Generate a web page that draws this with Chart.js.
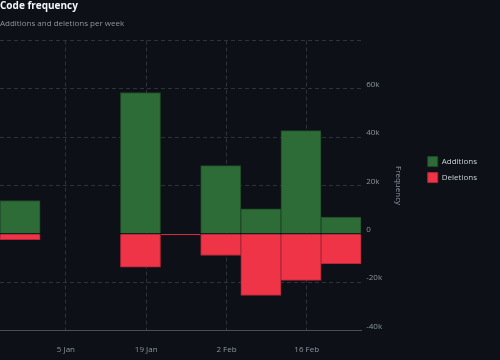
<!DOCTYPE html>
<html>
<head>
<meta charset="utf-8">
<script src="https://cdn.jsdelivr.net/npm/chart.js@4.4.1/dist/chart.umd.min.js"></script>
<style>
  html, body { margin: 0; padding: 0; background: #0d1117; }
  #wrap { width: 500px; height: 360px; }
</style>
</head>
<body>
<div id="wrap"><canvas id="c" width="500" height="360"></canvas></div>
<script>
// ---- data ----
const weekDates = ['2024-12-28', '2025-01-04', '2025-01-11', '2025-01-18', '2025-01-25', '2025-02-01', '2025-02-08', '2025-02-15', '2025-02-22'];
const additions = [13800, null, null, 58500, null, 28200, 10300, 42700, 6900];
const deletions = [-2400, null, null, -13800, -500, -9000, -25500, -19300, -12400];
const xTickDates = ['2025-01-05', '2025-01-19', '2025-02-02', '2025-02-16'];
const xTickLabels = ['5 Jan', '19 Jan', '2 Feb', '16 Feb'];
const yTickValues = [-40000, -20000, 0, 20000, 40000, 60000, 80000];
const yTickLabels = ['-40k', '-20k', '0', '20k', '40k', '60k', ''];

// ---- helpers ----
const DAY = 86400000;
const base = Date.parse('2025-01-01T00:00:00Z');
function dayOf(s) { return (Date.parse(s + 'T00:00:00Z') - base) / DAY; }
const xs = weekDates.map(dayOf);
const xTickValues = xTickDates.map(dayOf);

const GRID = '#2d333b';
const AXIS = '#484f58';
const MUTED = '#8b949e';
const GREEN = '#2e6c37';
const RED = '#ee3446';

Chart.defaults.font.family = '"Open Sans", "Noto Sans", sans-serif';
Chart.defaults.font.size = 8;
Chart.defaults.color = MUTED;

new Chart(document.getElementById('c'), {
  type: 'bar',
  data: {
    datasets: [
      {
        label: 'Additions',
        data: xs.map((x, i) => ({ x: x, y: additions[i] })),
        backgroundColor: GREEN,
        borderColor: '#1f4a27',
        borderWidth: 1,
        barPercentage: 1,
        categoryPercentage: 1,
        stack: 's'
      },
      {
        label: 'Deletions',
        data: xs.map((x, i) => ({ x: x, y: deletions[i] })),
        backgroundColor: RED,
        borderColor: '#b02738',
        borderWidth: 1,
        barPercentage: 1,
        categoryPercentage: 1,
        stack: 's'
      }
    ]
  },
  options: {
    responsive: false,
    animation: false,
    layout: { padding: { top: 0, left: 0, right: 13, bottom: 0 } },
    plugins: {
      title: {
        display: true,
        text: 'Code frequency',
        align: 'start',
        color: '#f0f6fc',
        font: { size: 10, weight: 'bold' },
        padding: { top: 0, bottom: 7 }
      },
      subtitle: {
        display: true,
        text: 'Additions and deletions per week',
        align: 'start',
        color: MUTED,
        font: { size: 8 },
        padding: { top: 0, bottom: 12 }
      },
      legend: {
        position: 'right',
        align: 'start',
        title: { display: true, text: '', padding: { top: 141, bottom: 0 } },
        labels: {
          color: '#c9d1d9',
          font: { size: 8 },
          boxWidth: 10,
          boxHeight: 10,
          padding: 6
        }
      },
      tooltip: { enabled: false }
    },
    scales: {
      x: {
        type: 'linear',
        stacked: true,
        offset: false,
        min: xs[0] - 3.5,
        max: xs[xs.length - 1] + 3.5,
        afterBuildTicks: (s) => { s.ticks = xTickValues.map(v => ({ value: v })); },
        ticks: {
          autoSkip: false,
          maxRotation: 0,
          padding: 5,
          color: MUTED,
          callback: (v) => { const i = xTickValues.indexOf(v); return i >= 0 ? xTickLabels[i] : ''; }
        },
        grid: { color: GRID, offset: false, drawTicks: true, tickLength: 10, tickColor: 'rgba(0,0,0,0)' },
        border: { display: true, color: AXIS, dash: [4, 3] }
      },
      y: {
        position: 'right',
        stacked: true,
        min: yTickValues[0],
        max: yTickValues[yTickValues.length - 1],
        afterBuildTicks: (s) => { s.ticks = yTickValues.map(v => ({ value: v })); },
        ticks: {
          padding: 5,
          labelOffset: -4,
          color: MUTED,
          callback: (v) => { const i = yTickValues.indexOf(v); return i >= 0 ? yTickLabels[i] : ''; }
        },
        grid: {
          drawTicks: false,
          color: (ctx) => (ctx.tick && (ctx.tick.value === 0 || ctx.tick.value === yTickValues[0])) ? 'rgba(0,0,0,0)' : GRID
        },
        border: { display: false, dash: [4, 3] },
        title: {
          display: true,
          text: 'Frequency',
          color: MUTED,
          font: { size: 8 },
          padding: { top: 19, bottom: 6 }
        }
      }
    }
  }
});
</script>
</body>
</html>
